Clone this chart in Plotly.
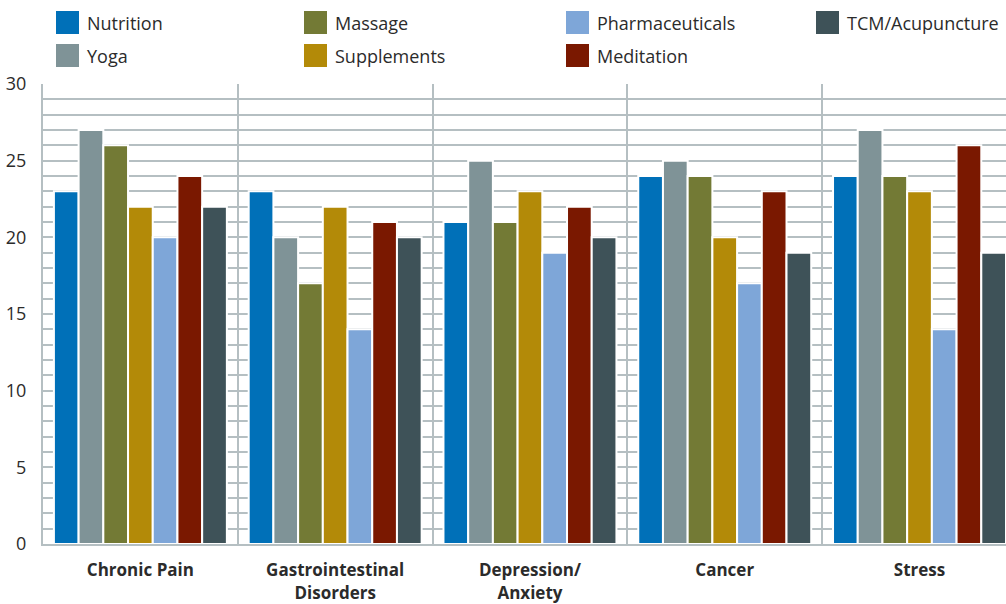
import plotly.graph_objects as go

categories = ["Chronic Pain", "Gastrointestinal<br>Disorders", "Depression/<br>Anxiety", "Cancer", "Stress"]
series_names = ["Nutrition", "Yoga", "Massage", "Supplements", "Pharmaceuticals", "Meditation", "TCM/Acupuncture"]
colors = ["#0070b8", "#7f9397", "#737a35", "#b38a08", "#7ea6d8", "#7a1800", "#3e5258"]

nutrition = [23, 23, 21, 24, 24]
yoga = [27, 20, 25, 25, 27]
massage = [26, 17, 21, 24, 24]
supplements = [22, 22, 23, 20, 23]
pharmaceuticals = [20, 14, 19, 17, 14]
meditation = [24, 21, 22, 23, 26]
tcm = [22, 20, 20, 19, 19]
series_values = [nutrition, yoga, massage, supplements, pharmaceuticals, meditation, tcm]

y_ticks = [0, 5, 10, 15, 20, 25, 30]

# legend layout: column-major, 2 rows
legend_cols = [56, 304, 566, 816]
legend_rows = [11, 44]

W, H = 1006, 604
ML, MR, MT, MB = 43, 0, 84, 60
PW, PH = W - ML - MR, H - MT - MB

def px_x(p):
    return (p - ML) / PW

def px_y(p):
    return (H - MB - p) / PH

grid = "#b5bfc2"
txt = "#2b2b2b"
font = "Open Sans"

fig = go.Figure()
for name, vals, col in zip(series_names, series_values, colors):
    fig.add_trace(go.Bar(
        x=categories, y=vals, name=name,
        marker=dict(color=col, line=dict(color="white", width=2)),
        showlegend=False, hoverinfo="x+y+name",
    ))

shapes = []
annotations = []
for i, (name, col) in enumerate(zip(series_names, colors)):
    c, r = divmod(i, 2)
    x0 = legend_cols[c]
    y0 = legend_rows[r]
    shapes.append(dict(type="rect", xref="paper", yref="paper",
                       x0=px_x(x0), x1=px_x(x0 + 23), y0=px_y(y0 + 23), y1=px_y(y0),
                       fillcolor=col, line=dict(width=0)))
    annotations.append(dict(xref="paper", yref="paper", x=px_x(x0 + 29), y=px_y(y0 + 12),
                            xanchor="left", yanchor="middle", showarrow=False,
                            text=name, font=dict(family=font, size=18, color=txt)))

fig.update_layout(
    width=W, height=H,
    margin=dict(l=ML, r=MR, t=MT, b=MB),
    paper_bgcolor="white", plot_bgcolor="white",
    barmode="group", bargap=0.112, bargroupgap=0,
    shapes=shapes, annotations=annotations,
    font=dict(family=font, color=txt),
    xaxis=dict(
        type="category", range=[-0.5, 4.444], automargin=False,
        tickson="boundaries", ticks="", showgrid=True, gridcolor=grid, gridwidth=2,
        showline=True, linecolor=grid, linewidth=2,
        tickfont=dict(family=font, size=17, color=txt, weight="bold"),
        ticklabelstandoff=10,
    ),
    yaxis=dict(
        range=[0, 30], tickvals=y_ticks, ticks="", automargin=False,
        showgrid=True, gridcolor=grid, gridwidth=2,
        minor=dict(dtick=1, showgrid=True, gridcolor=grid, gridwidth=2),
        showline=True, linecolor=grid, linewidth=2, zeroline=False,
        tickfont=dict(family=font, size=18, color=txt),
        ticklabelstandoff=11,
    ),
)

fig.write_html(
    "out.html",
    config={"displayModeBar": False},
    post_script="document.body.style.margin='0';document.body.style.overflow='hidden';",
)
